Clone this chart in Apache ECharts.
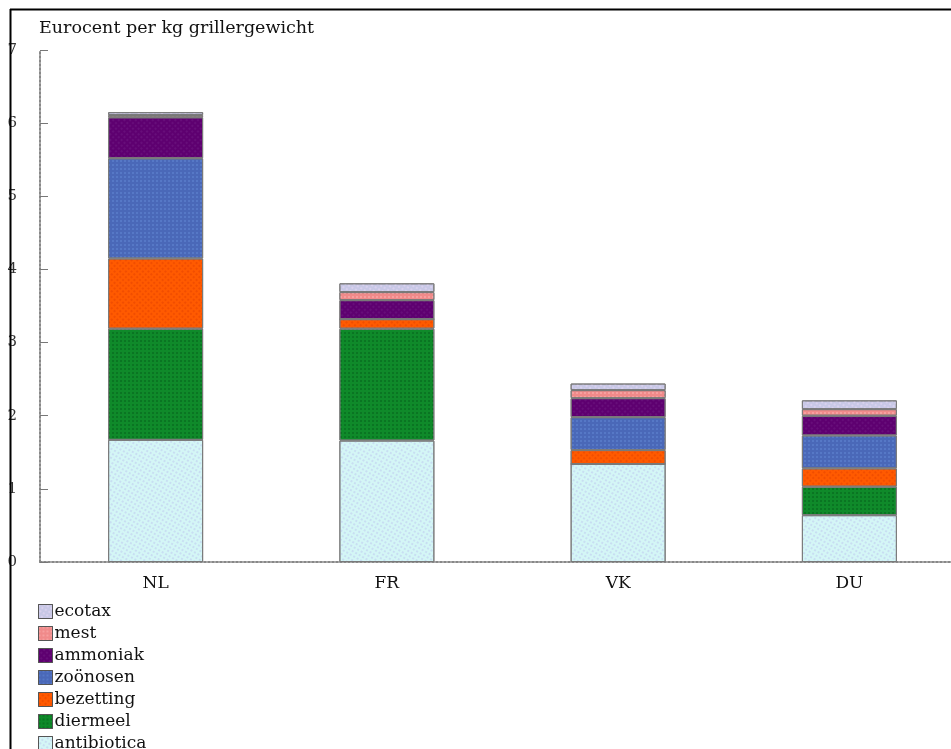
<!DOCTYPE html>
<html>
<head>
<meta charset="utf-8">
<script src="https://cdn.jsdelivr.net/npm/echarts@6/dist/echarts.min.js"></script>
<style>
html,body{margin:0;padding:0;background:#fff;}
#chart{width:951px;height:749px;}
</style>
</head>
<body>
<div id="chart"></div>
<script>
var categories = ['NL', 'FR', 'VK', 'DU'];
var antibiotica = [1.67, 1.66, 1.34, 0.64];
var diermeel    = [1.52, 1.53, 0.00, 0.39];
var bezetting   = [0.96, 0.13, 0.19, 0.25];
var zoonosen    = [1.37, 0.00, 0.45, 0.45];
var ammoniak    = [0.56, 0.26, 0.26, 0.27];
var mest        = [0.03, 0.11, 0.11, 0.09];
var ecotax      = [0.04, 0.12, 0.09, 0.12];
var yTicks = [0, 1, 2, 3, 4, 5, 6, 7];
var legendOrder = ['ecotax', 'mest', 'ammoniak', 'zoönosen', 'bezetting', 'diermeel', 'antibiotica'];

var FONT = '"DejaVu Serif", "Liberation Serif", serif';

function mk(name, data, color, decalColor) {
  return {
    name: name,
    type: 'bar',
    stack: 'total',
    barWidth: 95,
    data: data,
    itemStyle: {
      color: color,
      borderColor: '#7a7a7a',
      borderWidth: 1,
      decal: {
        symbol: 'rect',
        symbolSize: 0.8,
        dashArrayX: [2, 2],
        dashArrayY: [2, 2],
        color: decalColor
      }
    },
    emphasis: { disabled: true }
  };
}

var chart = echarts.init(document.getElementById('chart'), null, { renderer: 'canvas' });
chart.setOption({
  animation: false,
  backgroundColor: '#fff',
  aria: { enabled: true, decal: { show: true } },
  title: {
    text: 'Eurocent per kg grillergewicht',
    left: 34, top: 14,
    textStyle: { fontFamily: FONT, fontSize: 17.5, fontWeight: 'normal', color: '#111' }
  },
  legend: {
    orient: 'vertical',
    left: 33, top: 598,
    height: 200,
    itemWidth: 14, itemHeight: 14, itemGap: 5,
    icon: 'rect',
    data: legendOrder,
    selectedMode: false,
    textStyle: { fontFamily: FONT, fontSize: 17, color: '#111', padding: [0, 0, 0, -3] },
    itemStyle: { borderColor: '#555', borderWidth: 1 }
  },
  grid: { left: 40, right: -14, top: 50, bottom: 187, containLabel: false, outerBoundsMode: 'none' },
  xAxis: {
    type: 'category',
    data: categories,
    boundaryGap: true,
    axisLine: { lineStyle: { color: '#888', width: 2, type: 'dotted' } },
    axisTick: { inside: true, length: 5, lineStyle: { color: '#777' } },
    axisLabel: { fontFamily: FONT, fontSize: 17, color: '#111', margin: 13 },
    splitLine: { show: false }
  },
  yAxis: {
    type: 'value',
    min: yTicks[0], max: yTicks[yTicks.length - 1], interval: 1,
    axisLine: { show: true, lineStyle: { color: '#888', width: 2, type: 'dotted' } },
    axisTick: { show: true, inside: true, length: 8, lineStyle: { color: '#777' } },
    axisLabel: { fontFamily: FONT, fontSize: 15, color: '#333', margin: 23, align: 'right' },
    splitLine: { show: false }
  },
  series: [
    mk('antibiotica', antibiotica, '#d4f6f6', 'rgba(180,180,235,0.6)'),
    mk('diermeel', diermeel, '#0f8a2a', 'rgba(0,70,20,0.5)'),
    mk('bezetting', bezetting, '#ff5a00', 'rgba(210,50,0,0.5)'),
    mk('zoönosen', zoonosen, '#4a68b8', 'rgba(110,150,225,0.6)'),
    mk('ammoniak', ammoniak, '#5e0070', 'rgba(120,40,140,0.6)'),
    mk('mest', mest, '#f08a8a', 'rgba(255,190,190,0.7)'),
    mk('ecotax', ecotax, '#c8c8e6', 'rgba(240,220,250,0.7)')
  ],
  graphic: [
    { type: 'line', shape: { x1: 10.5, y1: 9, x2: 10.5, y2: 749 }, style: { stroke: '#000', lineWidth: 2 }, z: 100 },
    { type: 'line', shape: { x1: 10, y1: 9.5, x2: 951, y2: 9.5 }, style: { stroke: '#000', lineWidth: 2 }, z: 100 }
  ]
});
</script>
</body>
</html>
